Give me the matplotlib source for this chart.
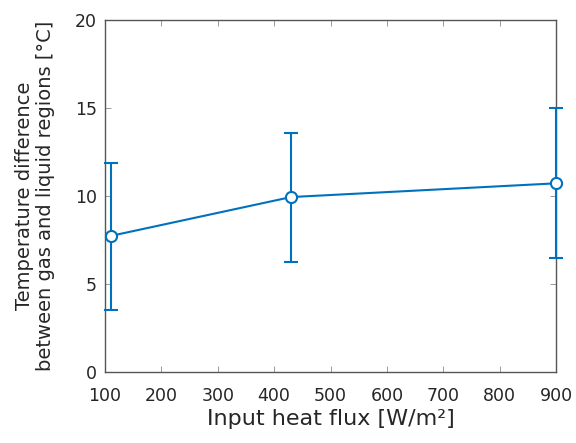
import matplotlib.pyplot as plt

# 数据
heat_flux = [110, 430, 900]
temp_diff = [7.73, 9.94, 10.72]
err_low = [3.5, 6.27, 6.5]
err_high = [11.9, 13.6, 15.0]

yerr = [[m - lo for m, lo in zip(temp_diff, err_low)],
        [hi - m for m, hi in zip(temp_diff, err_high)]]

plt.rcParams['font.family'] = ['DejaVu Sans']
dark = '#262626'
blue = '#0072BD'

fig = plt.figure(figsize=(5.76, 4.43), dpi=100)
ax = fig.add_axes([105 / 576, 1 - 372 / 443, 451 / 576, 352 / 443])

ax.errorbar(heat_flux, temp_diff, yerr=yerr, color=blue, linewidth=1.5,
            elinewidth=1.5, capsize=5, capthick=1.5, marker='o', markersize=8,
            markerfacecolor='white', markeredgecolor=blue, markeredgewidth=1.5,
            clip_on=False, zorder=3)

ax.set_xlim(100, 900)
ax.set_ylim(0, 20)
ax.set_xticks(range(100, 901, 100))
ax.set_yticks([0, 5, 10, 15, 20])
ax.tick_params(direction='in', length=4, width=0.6, colors='#888888',
               labelcolor=dark, labelsize=12.5, top=True, right=True)
ax.tick_params(axis='x', pad=11)
ax.tick_params(axis='y', pad=6)
for s in ax.spines.values():
    s.set_color('#555555')
    s.set_linewidth(1.0)

ax.set_xlabel('Input heat flux [W/m²]', fontsize=16, color=dark, labelpad=3)
ax.set_ylabel('Temperature difference\nbetween gas and liquid regions [°C]',
              fontsize=14, color=dark, labelpad=14, linespacing=1.15)

fig.savefig('out.png', dpi=100)
